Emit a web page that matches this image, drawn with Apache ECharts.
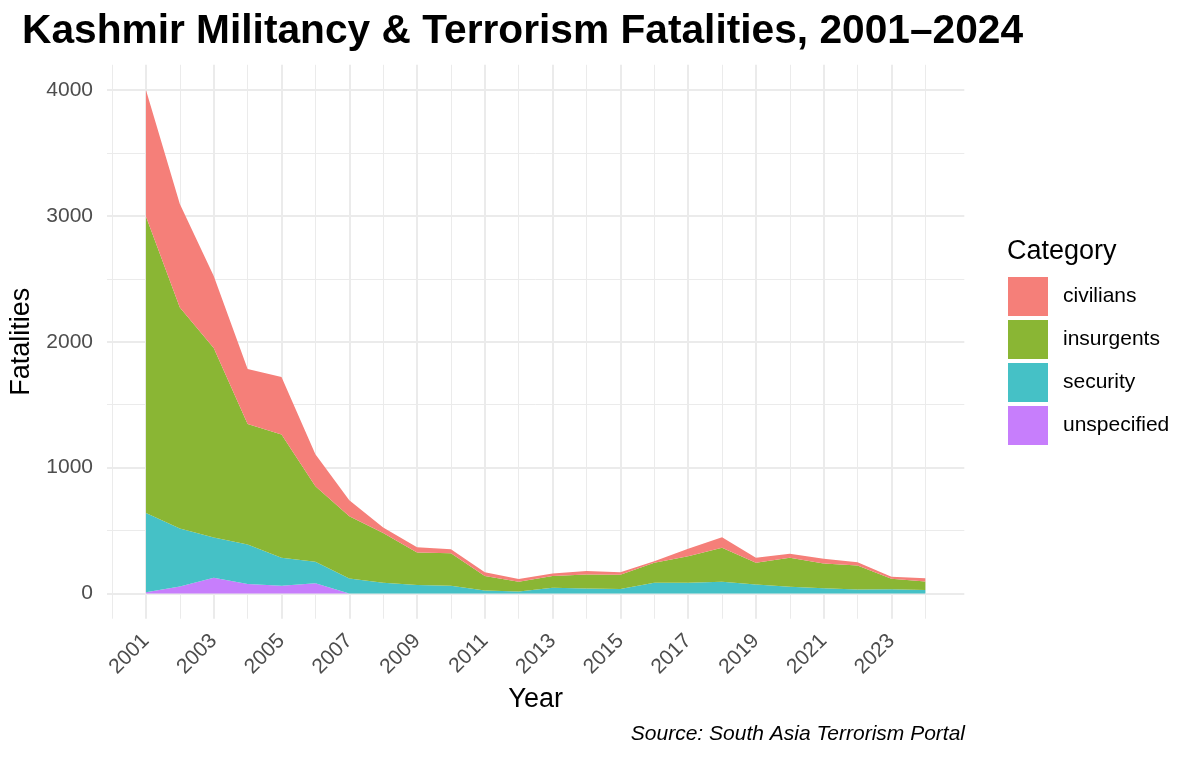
<!DOCTYPE html>
<html>
<head>
<meta charset="utf-8">
<title>Kashmir Militancy & Terrorism Fatalities</title>
<script src="https://cdn.jsdelivr.net/npm/echarts@6/dist/echarts.min.js"></script>
<style>
  html, body { margin: 0; padding: 0; background: #fff; }
  #chart { width: 1200px; height: 760px; }
</style>
</head>
<body>
<div id="chart"></div>
<script>
// data
var years = ['2001', '2002', '2003', '2004', '2005', '2006', '2007', '2008', '2009', '2010', '2011', '2012',
             '2013', '2014', '2015', '2016', '2017', '2018', '2019', '2020', '2021', '2022', '2023', '2024'];
var unspecified = [10, 56, 125, 75, 61, 82, 0, 0, 0, 0, 0, 0,
                   0, 0, 0, 0, 0, 0, 0, 0, 0, 0, 0, 0];
var security = [630, 460, 321, 315, 223, 171, 120, 85, 67, 61, 24, 16,
                45, 40, 36, 85, 85, 93, 72, 53, 42, 32, 34, 27];
var insurgents = [2355, 1756, 1505, 956, 979, 600, 493, 395, 258, 259, 115, 77,
                  94, 112, 113, 159, 212, 270, 172, 231, 197, 191, 83, 68];
var civilians = [1005, 822, 572, 438, 457, 254, 128, 45, 43, 32, 29, 22,
                 21, 27, 19, 13, 58, 85, 40, 32, 37, 26, 16, 27];

var xLabelYears = [2001, 2003, 2005, 2007, 2009, 2011, 2013, 2015, 2017, 2019, 2021, 2023];
var xMinorYears = [2000, 2002, 2004, 2006, 2008, 2010, 2012, 2014, 2016, 2018, 2020, 2022, 2024];
var yTicks = [0, 1000, 2000, 3000, 4000];
var yMinorTicks = [500, 1500, 2500, 3500];

var font = 'Liberation Sans, Arial, Helvetica, sans-serif';
var gridColor = '#EBEBEB';

// panel (ggplot-style expanded range) and the data area inside it
var xMin = 1999.85, xMax = 2025.15;
var yMin = -200, yMax = 4200;
var panel = { left: 107, right: 235.7, top: 64.8, bottom: 141.3 };
var pxPerYear = (1200 - panel.left - panel.right) / (xMax - xMin);
var dataGrid = {
  left: panel.left + (2001 - xMin) * pxPerYear,
  right: panel.right + (xMax - 2024) * pxPerYear,
  top: panel.top,
  bottom: panel.bottom
};

function areaSeries(name, vals, color) {
  return {
    name: name,
    type: 'line',
    stack: 'total',
    xAxisIndex: 2,
    yAxisIndex: 2,
    data: vals,
    symbol: 'none',
    color: color,
    lineStyle: { width: 0 },
    areaStyle: { color: color, opacity: 1 },
    itemStyle: { color: color },
    emphasis: { disabled: true }
  };
}

var chart = echarts.init(document.getElementById('chart'));

var option = {
  backgroundColor: '#fff',
  animation: false,
  title: [
    {
      text: 'Kashmir Militancy & Terrorism Fatalities, 2001–2024',
      left: 22, top: 11, padding: 0,
      textStyle: { fontFamily: font, fontSize: 40.7, fontWeight: 'bold', color: '#000' }
    },
    {
      text: 'Category',
      left: 1007, top: 238, padding: 0,
      textStyle: { fontFamily: font, fontSize: 27, fontWeight: 'normal', color: '#000' }
    },
    {
      text: 'Source: South Asia Terrorism Portal',
      right: 235, top: 724, padding: 0,
      textStyle: { fontFamily: font, fontSize: 21, fontWeight: 'normal', fontStyle: 'italic', color: '#000' }
    }
  ],
  legend: {
    orient: 'vertical',
    left: 1008, top: 277, padding: 0,
    itemWidth: 40, itemHeight: 39, itemGap: 4,
    icon: 'rect',
    data: ['civilians', 'insurgents', 'security', 'unspecified'],
    textStyle: { fontFamily: font, fontSize: 21, color: '#000', padding: [0, 0, 0, 10] }
  },
  grid: [panel, dataGrid],
  xAxis: [
    {
      gridIndex: 0, type: 'value', min: xMin, max: xMax, position: 'bottom',
      name: 'Year', nameLocation: 'middle', nameGap: 67,
      nameTextStyle: { fontFamily: font, fontSize: 27, color: '#000' },
      axisLine: { show: false },
      axisTick: { show: false, customValues: xLabelYears },
      axisLabel: {
        customValues: xLabelYears, rotate: 45, margin: 19,
        fontFamily: font, fontSize: 21, color: '#4D4D4D',
        formatter: function (v) { return String(v); }
      },
      splitLine: { show: true, lineStyle: { color: gridColor, width: 2 } }
    },
    {
      gridIndex: 0, type: 'value', min: xMin, max: xMax, position: 'bottom',
      axisLine: { show: false },
      axisTick: { show: false, customValues: xMinorYears },
      axisLabel: { show: false },
      splitLine: { show: true, lineStyle: { color: gridColor, width: 1 } }
    },
    {
      gridIndex: 1, type: 'category', data: years, boundaryGap: false, show: false
    }
  ],
  yAxis: [
    {
      gridIndex: 0, type: 'value', min: yMin, max: yMax, position: 'left',
      name: 'Fatalities', nameLocation: 'middle', nameGap: 66, nameRotate: 90,
      nameTextStyle: { fontFamily: font, fontSize: 27, color: '#000' },
      axisLine: { show: false },
      axisTick: { show: false, customValues: yTicks },
      axisLabel: {
        customValues: yTicks, margin: 14,
        fontFamily: font, fontSize: 21, color: '#4D4D4D',
        formatter: function (v) { return String(v); }
      },
      splitLine: { show: true, lineStyle: { color: gridColor, width: 2 } }
    },
    {
      gridIndex: 0, type: 'value', min: yMin, max: yMax, position: 'left',
      axisLine: { show: false },
      axisTick: { show: false, customValues: yMinorTicks },
      axisLabel: { show: false },
      splitLine: { show: true, lineStyle: { color: gridColor, width: 1 } }
    },
    {
      gridIndex: 1, type: 'value', min: yMin, max: yMax, show: false, splitLine: { show: false }
    }
  ],
  series: [
    areaSeries('unspecified', unspecified, '#C77EFC'),
    areaSeries('security', security, '#45C1C6'),
    areaSeries('insurgents', insurgents, '#8AB634'),
    areaSeries('civilians', civilians, '#F57F79')
  ]
};

chart.setOption(option);
</script>
</body>
</html>
